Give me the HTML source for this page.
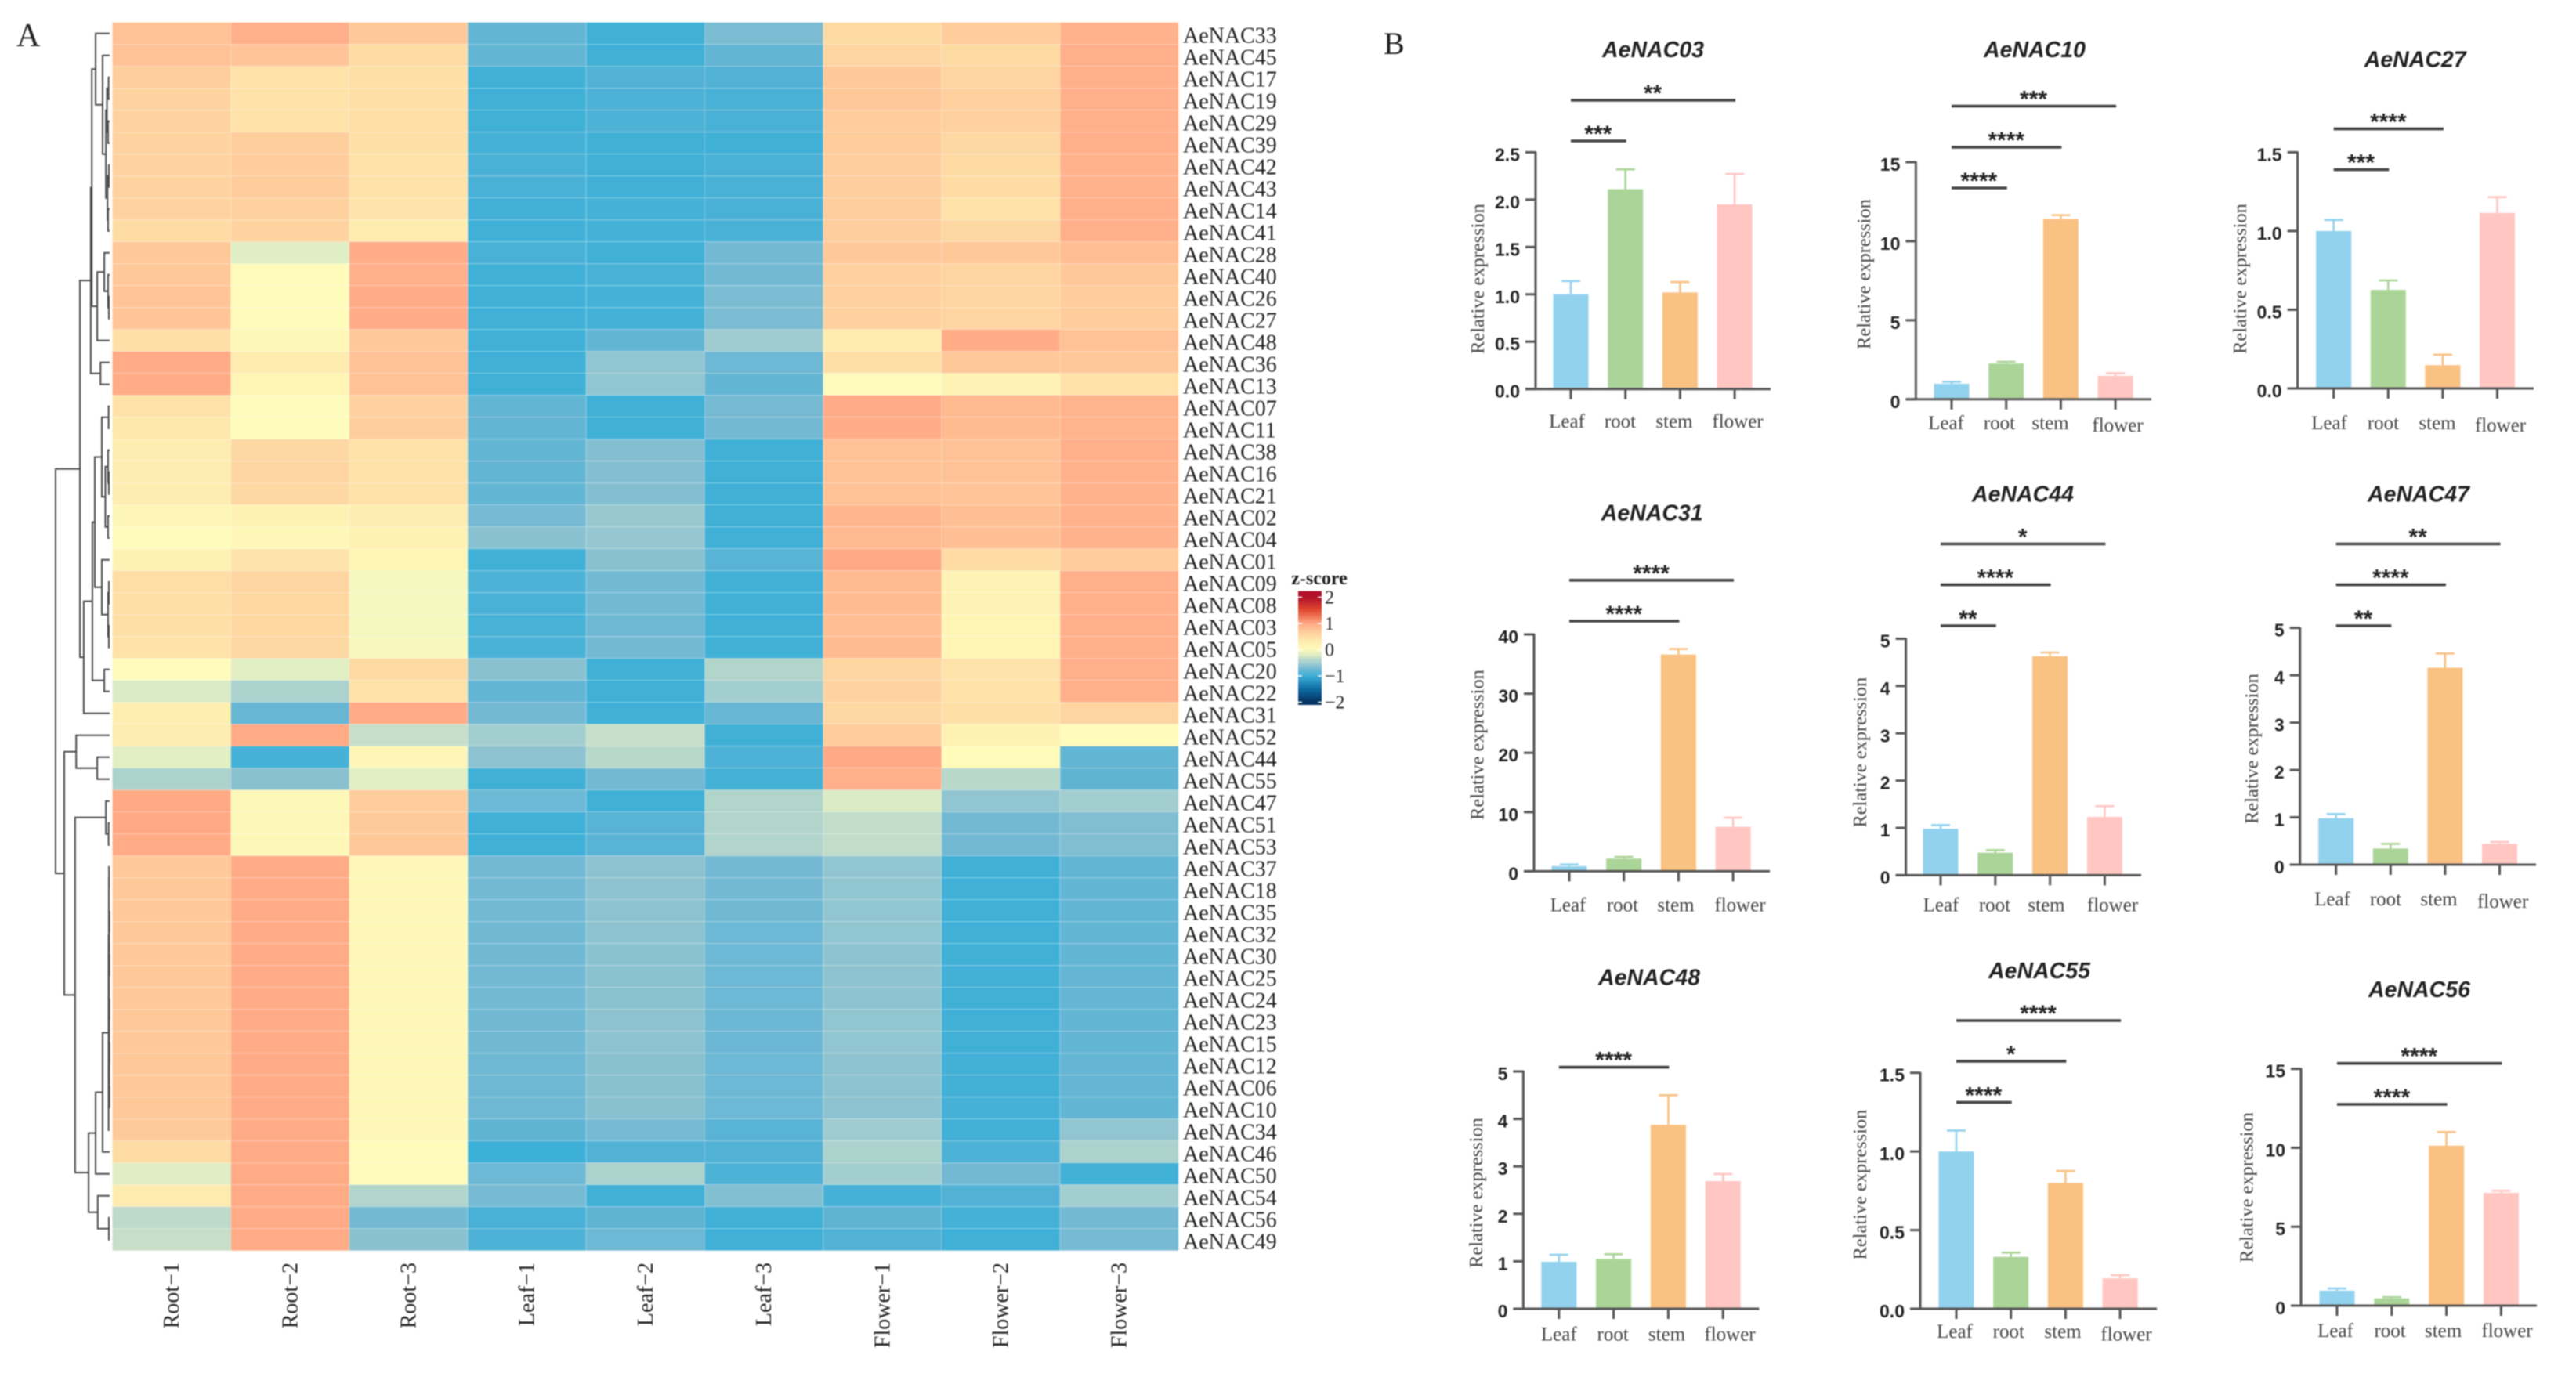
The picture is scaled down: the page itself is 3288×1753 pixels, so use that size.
<!DOCTYPE html>
<html lang="en">
<head>
<meta charset="utf-8">
<title>AeNAC expression heatmap and bar charts</title>
<style>
html,body{margin:0;padding:0;background:#fff;}
body{width:3288px;height:1753px;overflow:hidden;}
svg{display:block;filter:blur(0.7px);}
text{fill:#222;}
.serif{font-family:"Liberation Serif",serif;}
.sans{font-family:"Liberation Sans",sans-serif;}
</style>
</head>
<body>
<svg id="figure" xmlns="http://www.w3.org/2000/svg" width="3288" height="1753" viewBox="0 0 3288 1753">
  <rect width="3288" height="1753" fill="#fff"/>
  <text class="serif" x="21" y="59" font-size="42">A</text>
  <text class="serif" x="1766" y="69" font-size="40">B</text>
  <g id="heatmap"></g>
  <g id="dendrogram" fill="none" stroke="#4a4a4a" stroke-width="2"></g>
  <g id="colorbar"></g>
  <g id="panels"></g>
</svg>
<script>
/* ---------- heatmap data ---------- */
const sampleLabels = ["Root\u22121","Root\u22122","Root\u22123","Leaf\u22121","Leaf\u22122","Leaf\u22123","Flower\u22121","Flower\u22122","Flower\u22123"];
const geneLabels = ["AeNAC33","AeNAC45","AeNAC17","AeNAC19","AeNAC29","AeNAC39","AeNAC42","AeNAC43","AeNAC14","AeNAC41","AeNAC28","AeNAC40","AeNAC26","AeNAC27","AeNAC48","AeNAC36","AeNAC13","AeNAC07","AeNAC11","AeNAC38","AeNAC16","AeNAC21","AeNAC02","AeNAC04","AeNAC01","AeNAC09","AeNAC08","AeNAC03","AeNAC05","AeNAC20","AeNAC22","AeNAC31","AeNAC52","AeNAC44","AeNAC55","AeNAC47","AeNAC51","AeNAC53","AeNAC37","AeNAC18","AeNAC35","AeNAC32","AeNAC30","AeNAC25","AeNAC24","AeNAC23","AeNAC15","AeNAC12","AeNAC06","AeNAC10","AeNAC34","AeNAC46","AeNAC50","AeNAC54","AeNAC56","AeNAC49"];
const zScores = [
[.78,.95,.72,-.8,-.98,-.68,.52,.68,.92],
[.78,.75,.5,-.8,-.98,-.8,.58,.52,.95],
[.65,.42,.45,-.98,-.88,-.88,.72,.58,.95],
[.6,.42,.45,-.98,-.9,-.92,.72,.62,.95],
[.6,.42,.48,-.98,-.9,-.92,.68,.62,.95],
[.6,.65,.45,-.95,-.98,-.98,.68,.55,.95],
[.6,.68,.42,-.92,-.98,-.93,.65,.52,.92],
[.6,.68,.42,-.92,-.98,-.93,.65,.5,.92],
[.6,.62,.4,-.96,-.95,-.92,.65,.42,.95],
[.5,.6,.3,-.98,-.95,-.92,.65,.55,.95],
[.72,-.2,.97,-.92,-.98,-.72,.72,.72,.82],
[.72,.02,.95,-.98,-.93,-.72,.62,.58,.72],
[.75,.02,.98,-.98,-.95,-.68,.62,.58,.68],
[.75,.02,.97,-.98,-.95,-.68,.62,.58,.68],
[.45,.08,.72,-.98,-.8,-.52,.3,.97,.78],
[.98,.3,.78,-.98,-.58,-.75,.45,.72,.72],
[.98,.15,.78,-.98,-.58,-.8,0,.18,.42],
[.42,0,.62,-.8,-.98,-.7,.97,.85,.9],
[.35,0,.65,-.8,-.98,-.72,.97,.85,.9],
[.28,.55,.42,-.8,-.64,-.98,.78,.78,.95],
[.28,.58,.42,-.8,-.64,-.98,.78,.78,.92],
[.28,.55,.42,-.8,-.64,-.98,.78,.75,.92],
[.12,.2,.28,-.7,-.55,-.98,.88,.8,.92],
[0,.1,.22,-.62,-.56,-.97,.85,.8,.92],
[.2,.4,.14,-.98,-.62,-.85,1,.5,.68],
[.48,.58,-.06,-.9,-.72,-.98,.85,.18,.95],
[.46,.56,-.06,-.92,-.72,-.98,.85,.18,.95],
[.45,.56,-.06,-.94,-.74,-.98,.82,.14,.95],
[.42,.55,-.04,-.92,-.72,-.98,.85,.15,.95],
[.02,-.18,.52,-.62,-.98,-.42,.58,.4,.95],
[-.22,-.45,.42,-.8,-.98,-.5,.6,.42,.95],
[.25,-.78,.98,-.72,-.98,-.78,.55,.45,.58],
[.28,.98,-.3,-.5,-.3,-.98,.68,.2,.02],
[-.18,-.95,.12,-.6,-.38,-.9,1,.02,-.8],
[-.45,-.62,-.18,-.98,-.72,-.95,.95,-.38,-.82],
[1,.08,.68,-.75,-.98,-.42,-.22,-.58,-.5],
[1,.08,.7,-.98,-.85,-.42,-.33,-.72,-.66],
[.98,.08,.72,-.98,-.85,-.42,-.33,-.72,-.66],
[.72,.98,.1,-.72,-.6,-.72,-.58,-.98,-.8],
[.72,.98,.1,-.72,-.6,-.72,-.58,-.98,-.8],
[.72,.98,.1,-.72,-.6,-.73,-.58,-.98,-.8],
[.72,.98,.1,-.73,-.6,-.75,-.58,-.98,-.8],
[.72,.98,.1,-.73,-.61,-.75,-.6,-.98,-.8],
[.72,.98,.1,-.72,-.61,-.75,-.6,-.96,-.79],
[.72,.98,.1,-.72,-.61,-.75,-.6,-.97,-.79],
[.72,.98,.1,-.73,-.6,-.76,-.58,-.97,-.8],
[.72,.98,.1,-.73,-.6,-.76,-.58,-.97,-.8],
[.72,.98,.1,-.74,-.62,-.75,-.6,-.96,-.79],
[.72,.98,.1,-.74,-.62,-.75,-.6,-.96,-.79],
[.72,.98,.1,-.74,-.62,-.75,-.6,-.95,-.8],
[.7,.98,.1,-.82,-.7,-.85,-.52,-.96,-.58],
[.5,.98,.02,-1,-.88,-.88,-.45,-.9,-.45],
[-.2,.98,.02,-.75,-.45,-.9,-.5,-.72,-.98],
[.3,.98,-.42,-.7,-.98,-.65,-.95,-.88,-.5],
[-.35,.98,-.72,-.93,-.82,-.98,-.82,-.95,-.72],
[-.3,.98,-.62,-.9,-.75,-.98,-.88,-.98,-.7]
];
/* row clustering: [merge distance, left child, right child]; a plain number is a gene row index */
const dendrogramTree = [1.0,
  [.55,
    [.35,
      [.33,
        [.26, 0, [.13, 1, [.07, [.05,[.02,2,3],[.03,4,5]], [.04,[.015,6,7],[.03,8,9]]]]],
        [.23, [.10, 10, [.03, 11, [.015, 12, 13]]], 14]
      ],
      [.17, 15, 16]
    ],
    [.48,
      [.32,
        [.275,
          [.145, [.02,17,18], [.08, [.03,19,[.015,20,21]], [.03,22,23]]],
          [.145, 24, [.03, [.015,25,26], [.015,27,28]]]
        ],
        [.10, 29, 30]
      ],
      31
    ]
  ],
  [.84,
    [.62, 32, [.23, 33, 34]],
    [.64,
      [.07, 35, [.02, 36, 37]],
      [.39,
        [.26,
          [.13,
            [.02,
              [.015, [.012,38,39], [.012, [.01,[.006,40,41],[.006,42,43]], [.01,[.006,44,45],[.008,[.005,46,47],[.005,48,49]]]]],
              50
            ],
            51
          ],
          52
        ],
        [.22, 53, [.015, 54, 55]]
      ]
    ]
  ]
];
const colorbarTicks = [2,1,0,-1,-2];

/* ---------- bar chart data ---------- */
const barGenes = ["AeNAC03","AeNAC10","AeNAC27","AeNAC31","AeNAC44","AeNAC47","AeNAC48","AeNAC55","AeNAC56"];
const tissues = ["Leaf","root","stem","flower"];
const expressionValues = [
[1.0,2.11,1.02,1.95],
[.98,2.26,11.4,1.48],
[1.0,.626,.148,1.115],
[.86,2.13,36.6,7.5],
[.98,.475,4.63,1.23],
[.98,.34,4.16,.44],
[.99,1.05,3.875,2.69],
[1.0,.33,.80,.193],
[.95,.455,10.13,7.14]
];
const expressionErrors = [
[.14,.21,.11,.32],
[.12,.11,.25,.17],
[.07,.06,.067,.10],
[.3,.3,.95,1.55],
[.08,.055,.08,.23],
[.09,.1,.3,.04],
[.15,.1,.625,.15],
[.133,.027,.076,.021],
[.14,.085,.87,.14]
];
const yTickLabels = [
["0.0","0.5","1.0","1.5","2.0","2.5"],
["0","5","10","15"],
["0.0","0.5","1.0","1.5"],
["0","10","20","30","40"],
["0","1","2","3","4","5"],
["0","1","2","3","4","5"],
["0","1","2","3","4","5"],
["0.0","0.5","1.0","1.5"],
["0","5","10","15"]
];
/* significance: stars and the tissue index compared with Leaf */
const sigStars = [["**","***"],["***","****","****"],["****","***"],["****","****"],["*","****","**"],["**","****","**"],["****"],["****","*","****"],["****","****"]];
const sigTargets = [[3,1],[3,2,1],[2,1],[3,2],[3,2,1],[3,2,1],[2],[3,2,1],[3,2]];

/* ---------- layout (not data) ---------- */
const panelLayout = [
{axisX:1960,topY:194.4,zeroY:496.7,catX:2005,step:69.7,endX:2260,titleX:2110,titleY:63,ylX:1886,ylY:356,lblX:[2000,2068,2137,2218],lblY:[538,538,538,538],sigY:[128,180]},
{axisX:2445.4,topY:207,zeroY:509.8,catX:2491,step:69.7,endX:2746,titleX:2597,titleY:63,ylX:2379,ylY:350,lblX:[2484,2552,2617,2703],lblY:[540,540,540,543],sigY:[135.5,188,240]},
{axisX:2932.6,topY:194.4,zeroY:496,catX:2978.7,step:69.6,endX:3234,titleX:3082.7,titleY:75.4,ylX:2859,ylY:356,lblX:[2973,3042,3111,3191.5],lblY:[540,540,540,543],sigY:[164.6,216.6]},
{axisX:1958,topY:810,zeroY:1112.4,catX:2003,step:69.7,endX:2259,titleX:2108.7,titleY:654.7,ylX:1885.7,ylY:951,lblX:[2001.5,2071,2139,2221],lblY:[1155.7,1155.7,1155.7,1155.7],sigY:[740.8,793]},
{axisX:2432.6,topY:815.5,zeroY:1117.4,catX:2477,step:69.8,endX:2733,titleX:2582,titleY:630.6,ylX:2374,ylY:960.7,lblX:[2477.5,2546,2612,2696.5],lblY:[1155.7,1155.7,1155.7,1155.7],sigY:[694.5,746.6,799]},
{axisX:2935.7,topY:801.7,zeroY:1104,catX:2981.7,step:69.6,endX:3237,titleX:3087,titleY:630.6,ylX:2874,ylY:956,lblX:[2977,3045,3113,3194.6],lblY:[1148,1148,1148,1151],sigY:[694.5,746.6,799]},
{axisX:1944.4,topY:1368,zeroY:1671,catX:1989.8,step:69.8,endX:2245.4,titleX:2105,titleY:1247.6,ylX:1884,ylY:1523,lblX:[1989.8,2058.7,2127.5,2208],lblY:[1703.7,1703.7,1703.7,1703.7],sigY:[1362.6]},
{axisX:2451,topY:1369.7,zeroY:1671,catX:2497,step:69.7,endX:2753,titleX:2603,titleY:1238.8,ylX:2374,ylY:1512.5,lblX:[2495,2563.8,2633,2714],lblY:[1700,1700,1700,1703.7],sigY:[1303,1354.9,1407.4]},
{axisX:2937,topY:1364.7,zeroY:1667,catX:2983,step:69.8,endX:3238,titleX:3088,titleY:1262.8,ylX:2867.7,ylY:1516,lblX:[2981,3050.6,3118.6,3200],lblY:[1699,1699,1699,1699],sigY:[1357.7,1410]}
];
const tissueColors = ["#93d2ee","#abd598","#f9c182","#ffc6c2"];
const heatGeom = {left:143.5,top:28.7,cellW:151.2,cellH:28};
const colorStops = [[-2,"#053061"],[-1.5,"#0d6ba3"],[-1,"#3cb0d7"],[-.9,"#4eb1d6"],[-.8,"#63b5d4"],[-.7,"#77bad3"],[-.6,"#8dc3d0"],[-.5,"#a3ced0"],[-.4,"#b4d6ca"],[-.3,"#c7dfc8"],[-.2,"#dfeec4"],[-.1,"#eef3bf"],[0,"#fefcbc"],[.15,"#fef5b5"],[.3,"#feecaf"],[.5,"#fedca4"],[.6,"#fed39f"],[.75,"#ffc598"],[.9,"#ffb48c"],[1,"#ffa985"],[1.5,"#e2492f"],[2,"#b2102a"]];

/* ---------- helpers ---------- */
const SVGNS = "http://www.w3.org/2000/svg";
function mk(tag, attrs, parent, txt){
  const el = document.createElementNS(SVGNS, tag);
  for(const k in attrs) el.setAttribute(k, attrs[k]);
  if(txt !== undefined) el.textContent = txt;
  parent.appendChild(el);
  return el;
}
function hexRgb(h){return [parseInt(h.substr(1,2),16),parseInt(h.substr(3,2),16),parseInt(h.substr(5,2),16)];}
function zColor(z){
  z = Math.max(-2,Math.min(2,z));
  for(let i=1;i<colorStops.length;i++){
    if(z<=colorStops[i][0]){
      const a=colorStops[i-1], b=colorStops[i], t=(z-a[0])/(b[0]-a[0]);
      const ca=hexRgb(a[1]), cb=hexRgb(b[1]);
      return "rgb("+ca.map((v,j)=>Math.round(v+(cb[j]-v)*t)).join(",")+")";
    }
  }
  return colorStops[colorStops.length-1][1];
}
const colX = c => heatGeom.left + c*heatGeom.cellW;
const rowY = r => heatGeom.top + r*heatGeom.cellH;

/* ---------- heatmap ---------- */
const heatG = document.getElementById("heatmap");
zScores.forEach((row,r)=>{
  row.forEach((z,c)=>{
    const cell = mk("rect",{x:colX(c),y:rowY(r),width:heatGeom.cellW,height:heatGeom.cellH,fill:zColor(z),stroke:"#fff","stroke-opacity":.13,"stroke-width":1.6},heatG);
    
    
  });
});
geneLabels.forEach((g,r)=>{
  const t = mk("text",{x:1510,y:rowY(r+.5)+11.7,"font-size":28,"class":"serif"},heatG,g);
  
  
});
sampleLabels.forEach((s,c)=>{
  const cx = colX(c+.5)+9;
  const t = mk("text",{transform:"translate("+cx+",1612) rotate(-90)","text-anchor":"end","font-size":28,"class":"serif"},heatG,s);
  
  
});

/* ---------- dendrogram ---------- */
const dendroG = document.getElementById("dendrogram");
const distX = d => 140 - d*69;
function drawNode(node){
  if(typeof node === "number") return {x:distX(0), y:rowY(node+.5)};
  const a = drawNode(node[1]), b = drawNode(node[2]), x = distX(node[0]);
  const p = mk("path",{d:"M"+a.x+" "+a.y+"H"+x+"V"+b.y+"H"+b.x},dendroG);
  
  
  return {x:x, y:(a.y+b.y)/2};
}
drawNode(dendrogramTree);

/* ---------- colorbar ---------- */
const cbG = document.getElementById("colorbar");
const cbDefs = mk("defs",{},cbG);
const grad = mk("linearGradient",{id:"zgrad",x1:0,y1:0,x2:0,y2:1},cbDefs);
const cbTop = 754.6, cbBottom = 900, cbZ = z => 829.5 - z*33.5;
for(let i=0;i<=30;i++){
  const y = cbTop + (cbBottom-cbTop)*i/30;
  mk("stop",{offset:i/30,"stop-color":zColor((829.5-y)/33.5)},grad);
}
const cbRect = mk("rect",{x:1657,y:cbTop,width:30,height:cbBottom-cbTop,fill:"url(#zgrad)"},cbG);


const cbTitle = mk("text",{x:1684,y:746,"text-anchor":"middle","font-size":24,"font-weight":"bold","class":"serif"},cbG,"z-score");


colorbarTicks.forEach(v=>{
  const y = cbZ(v);
  mk("path",{d:"M1657 "+y+"h5M1682 "+y+"h5",stroke:"#fff","stroke-width":1.6},cbG);
  const t = mk("text",{x:1691,y:y+8,"font-size":24,"class":"serif"},cbG,String(v).replace("-","\u2212"));
  
  
});

/* ---------- bar panels ---------- */
const panelsG = document.getElementById("panels");
const axisColor = "#555";
const barW = 45, capHalf = 12, tickLen = 13;
barGenes.forEach((gene,pi)=>{
  const L = panelLayout[pi];
  const g = mk("g",{},panelsG);
  
  
  const labels = yTickLabels[pi];
  const yMax = parseFloat(labels[labels.length-1]);
  const yScale = v => L.zeroY - v/yMax*(L.zeroY-L.topY);
  const xScale = i => L.catX + i*L.step;

  const title = mk("text",{x:L.titleX,y:L.titleY+10,"text-anchor":"middle","font-size":28.5,"font-weight":"bold","font-style":"italic","class":"sans"},g,gene);
  
  

  const yl = mk("text",{transform:"translate("+(L.ylX+8)+","+L.ylY+") rotate(-90)","text-anchor":"middle","font-size":24.4,"class":"serif",style:"fill:#444"},g,"Relative expression");
  
  

  expressionValues[pi].forEach((v,i)=>{
    const x = xScale(i), y = yScale(v), top = yScale(v+expressionErrors[pi][i]);
    const err = mk("path",{d:"M"+x+" "+y+"V"+top+"M"+(x-capHalf)+" "+top+"H"+(x+capHalf),stroke:tissueColors[i],"stroke-width":2.6,fill:"none"},g);
    
    
    const bar = mk("rect",{x:x-barW/2,y:y,width:barW,height:L.zeroY-y,fill:tissueColors[i]},g);
    
    
  });

  const yAxis = mk("line",{x1:L.axisX,x2:L.axisX,y1:L.topY-1,y2:L.zeroY,stroke:axisColor,"stroke-width":3},g);
  
  
  const xAxis = mk("line",{x1:L.axisX-tickLen,x2:L.endX,y1:L.zeroY,y2:L.zeroY,stroke:axisColor,"stroke-width":3},g);
  
  

  labels.forEach(lab=>{
    const y = yScale(parseFloat(lab));
    const tick = mk("line",{x1:L.axisX-tickLen,x2:L.axisX,y1:y,y2:y,stroke:axisColor,"stroke-width":3},g);
    
    
    const t = mk("text",{x:L.axisX-20,y:y+11,"text-anchor":"end","font-size":23,"font-weight":"bold","class":"sans"},g,lab);
    
    
  });

  tissues.forEach((tissue,i)=>{
    const x = xScale(i);
    const tick = mk("line",{x1:x,x2:x,y1:L.zeroY,y2:L.zeroY+tickLen,stroke:axisColor,"stroke-width":3},g);
    
    
    const t = mk("text",{x:L.lblX[i],y:L.lblY[i]+8,"text-anchor":"middle","font-size":25,"class":"serif",style:"fill:#444"},g,tissue);
    
    
  });

  sigStars[pi].forEach((stars,k)=>{
    const y = L.sigY[k], x1 = xScale(0), x2 = xScale(sigTargets[pi][k]);
    const line = mk("line",{x1:x1,x2:x2+1,y1:y,y2:y,stroke:"#444","stroke-width":3.6},g);
    
    
    const t = mk("text",{x:(x1+x2)/2,y:y+1,"text-anchor":"middle","font-size":30,"font-weight":"bold","class":"sans"},g,stars);
    
    
  });
});
</script>
</body>
</html>
